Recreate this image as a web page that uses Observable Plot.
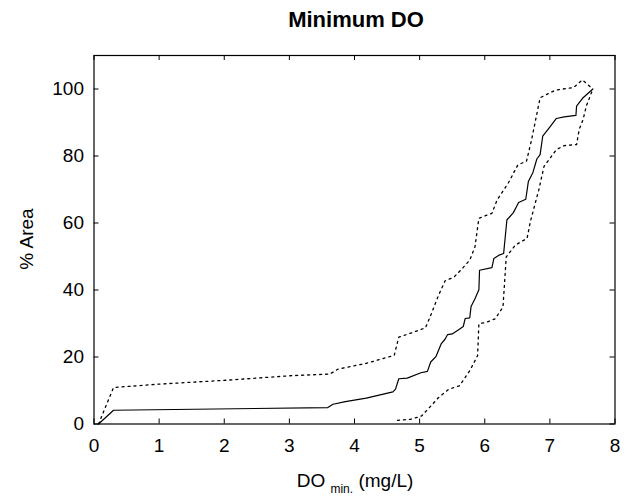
<!DOCTYPE html>
<html>
<head>
<meta charset="utf-8">
<script src="https://cdn.jsdelivr.net/npm/d3@7"></script>
<script src="https://cdn.jsdelivr.net/npm/@observablehq/plot@0.6"></script>
<style>
  body { margin: 0; background: #fff; }
  #chart { width: 634px; height: 500px; }
</style>
</head>
<body>
<div id="chart"></div>
<script>
// ---- Data ----
const title = "Minimum DO";
const yLabel = "% Area";
const xLabelMain = "DO";
const xLabelSub = "min.";
const xLabelUnit = "(mg/L)";
const xTicks = [0, 1, 2, 3, 4, 5, 6, 7, 8];
const yTicks = [0, 20, 40, 60, 80, 100];

// Median (solid) curve
const medianX = [0.07, 0.30, 3.59, 3.67, 3.86, 4.18, 4.59, 4.63, 4.68, 4.81, 5.02, 5.12, 5.17, 5.25, 5.33, 5.39, 5.43, 5.50, 5.61, 5.67, 5.70, 5.77, 5.79, 5.85, 5.91, 5.92, 6.11, 6.14, 6.23, 6.29, 6.34, 6.44, 6.52, 6.63, 6.67, 6.74, 6.80, 6.85, 6.89, 6.99, 7.10, 7.22, 7.40, 7.41, 7.51, 7.66];
const medianY = [0, 4.1, 4.9, 5.9, 6.7, 7.7, 9.6, 10.4, 13.5, 13.7, 15.3, 15.7, 18.5, 20.1, 23.9, 25.3, 26.7, 26.9, 28.3, 29.1, 31.5, 31.7, 35.1, 37.4, 40.1, 45.9, 46.7, 49.4, 50.5, 50.9, 60.9, 63.1, 66.1, 67.1, 72.4, 75.1, 79.1, 80.4, 85.9, 88.4, 91.2, 91.7, 92.1, 94.9, 97.4, 100];

// Upper bound (dotted)
const upperX = [0.07, 0.30, 1.00, 2.06, 3.01, 3.62, 3.75, 4.18, 4.61, 4.68, 4.89, 5.09, 5.18, 5.29, 5.39, 5.53, 5.63, 5.77, 5.85, 5.91, 6.11, 6.19, 6.36, 6.51, 6.64, 6.72, 6.85, 7.09, 7.36, 7.50, 7.66];
const upperY = [0, 10.9, 11.9, 13.1, 14.4, 14.9, 16.4, 18.1, 20.5, 25.9, 27.3, 28.7, 32.9, 38.4, 42.7, 43.9, 45.9, 48.9, 52.9, 61.4, 62.9, 66.9, 71.9, 77.4, 78.4, 84.9, 97.4, 99.7, 100.4, 102.7, 100];

// Lower bound (dotted)
const lowerX = [4.66, 4.86, 5.03, 5.15, 5.29, 5.45, 5.61, 5.70, 5.77, 5.85, 5.89, 5.91, 6.03, 6.16, 6.28, 6.33, 6.47, 6.65, 6.70, 6.83, 6.91, 7.10, 7.22, 7.41, 7.45, 7.51, 7.56, 7.66];
const lowerY = [1.1, 1.4, 2.4, 4.9, 7.9, 10.4, 11.4, 13.9, 15.9, 18.9, 20.4, 29.9, 30.4, 31.4, 34.9, 49.9, 53.4, 55.4, 60.4, 69.9, 76.9, 81.9, 83.1, 83.4, 87.9, 90.9, 94.9, 100];

const toRows = (xs, ys) => xs.map((x, i) => ({x, y: ys[i]}));
const median = toRows(medianX, medianY);
const upper = toRows(upperX, upperY);
const lower = toRows(lowerX, lowerY);

// ---- Layout ----
const W = 634, H = 500;
const mL = 93.5, mR = 19.5, mT = 55, mB = 76.5;
const frameW = W - mL - mR, frameH = H - mT - mB;
const tickLen = 5;
const font = "Liberation Sans, Arial, Helvetica, sans-serif";

const chart = Plot.plot({
  width: W,
  height: H,
  marginLeft: mL,
  marginRight: mR,
  marginTop: mT,
  marginBottom: mB,
  style: {fontFamily: font, fontSize: "19px", color: "#000", background: "#fff"},
  x: {domain: [0, 8], label: null},
  y: {domain: [0, 110], label: null},
  marks: [
    Plot.axisX({ticks: xTicks, tickSize: 0, tickPadding: 14, fontSize: 19, label: null, tickFormat: d3.format("d")}),
    Plot.axisY({ticks: yTicks, tickSize: 0, tickPadding: 10, fontSize: 19, label: null, tickFormat: d3.format("d")}),
    // inward ticks on all four sides
    Plot.tickX(xTicks, {x: d => d, insetTop: frameH - tickLen, stroke: "black"}),
    Plot.tickX(xTicks, {x: d => d, insetBottom: frameH - tickLen, stroke: "black"}),
    Plot.tickY(yTicks, {y: d => d, insetRight: frameW - tickLen, stroke: "black"}),
    Plot.tickY(yTicks, {y: d => d, insetLeft: frameW - tickLen, stroke: "black"}),
    Plot.line(upper, {x: "x", y: "y", stroke: "black", strokeWidth: 1.3, strokeDasharray: "2,4"}),
    Plot.line(lower, {x: "x", y: "y", stroke: "black", strokeWidth: 1.3, strokeDasharray: "2,4"}),
    Plot.line(median, {x: "x", y: "y", stroke: "black", strokeWidth: 1.2}),
    Plot.frame({stroke: "black", strokeWidth: 1.2})
  ]
});

document.getElementById("chart").appendChild(chart);

// Title and axis labels as real SVG text
const svg = d3.select(chart);
svg.append("text")
  .attr("x", 356).attr("y", 27)
  .attr("text-anchor", "middle")
  .attr("font-family", font)
  .attr("font-size", 22)
  .attr("font-weight", "bold")
  .attr("fill", "black")
  .text(title);

svg.append("text")
  .attr("transform", "translate(33,239) rotate(-90)")
  .attr("text-anchor", "middle")
  .attr("font-family", font)
  .attr("font-size", 19)
  .attr("fill", "black")
  .text(yLabel);

const xl = svg.append("text")
  .attr("x", 355).attr("y", 487)
  .attr("text-anchor", "middle")
  .attr("font-family", font)
  .attr("font-size", 19)
  .attr("fill", "black");
xl.append("tspan").text(xLabelMain + " ");
xl.append("tspan").attr("font-size", 12).attr("dy", 6).text(xLabelSub);
xl.append("tspan").attr("dy", -6).text(" " + xLabelUnit);
</script>
</body>
</html>
